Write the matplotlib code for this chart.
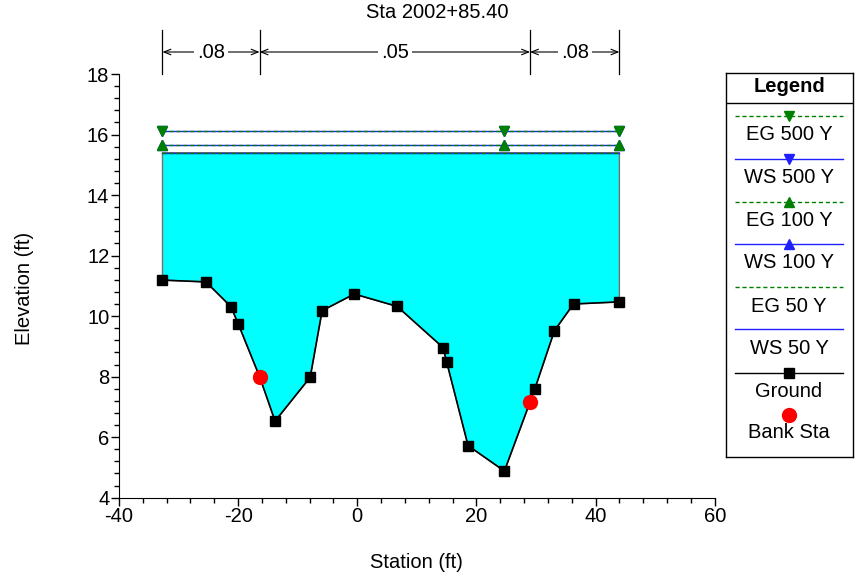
import matplotlib
matplotlib.use("Agg")
import matplotlib.pyplot as plt
from matplotlib.ticker import MultipleLocator

plt.rcParams['font.family'] = ['Liberation Sans', 'DejaVu Sans']
plt.rcParams['axes.unicode_minus'] = False

# ground survey points (station, elevation)
station = [-32.7, -25.4, -21.2, -20.0, -16.4, -13.8, -7.9, -5.9, -0.5, 6.7,
           14.4, 15.0, 18.6, 24.7, 29.0, 29.8, 33.1, 36.3, 44.0]
elevation = [11.19, 11.13, 10.31, 9.75, 8.00, 6.53, 7.98, 10.18, 10.73, 10.32,
             8.96, 8.49, 5.72, 4.88, 7.16, 7.59, 9.52, 10.40, 10.47]
bank_sta = [-16.4, 29.0]
bank_elev = [8.00, 7.16]

# water surface / energy grade elevations per profile
profiles = ['500 Y', '100 Y', '50 Y']
ws_elev = [16.13, 15.66, 15.40]
eg_elev = [16.13, 15.66, 15.40]
profile_markers = ['v', '^', None]
marker_sta = [-32.7, 24.7, 44.0]

# Manning's n between breaks
n_breaks = [-32.7, -16.4, 29.0, 44.0]
n_values = ['.08', '.05', '.08']

FS = 14.5
W, H = 855, 578
fig = plt.figure(figsize=(W / 100, H / 100), dpi=100)
ax = fig.add_axes([119 / W, 1 - 497.7 / H, (714.7 - 119) / W, (497.7 - 74) / H])

x0, x1 = station[0], station[-1]
ws_fill = ws_elev[-1]

# flow area
poly_x = [x0] + station + [x1]
poly_y = [ws_fill] + elevation + [ws_fill]
ax.fill(poly_x, poly_y, facecolor='#00ffff', edgecolor='#707070', lw=1, zorder=1)

# water surfaces and energy grades
for name, ws, eg, mk in zip(profiles, ws_elev, eg_elev, profile_markers):
    ax.plot([x0, x1], [ws, ws], color='#1f1fff', lw=1, zorder=2)
    if mk:
        ax.plot(marker_sta, [ws] * len(marker_sta), ls='none', marker=mk,
                color='#1f1fff', ms=7, zorder=3)
    ax.plot([x0, x1], [eg, eg], color='#008000', lw=1, ls=(0, (3, 2)), zorder=3)
    if mk:
        ax.plot(marker_sta, [eg] * len(marker_sta), ls='none', marker=mk,
                color='#008000', ms=7, zorder=4)

ax.plot(station, elevation, color='black', lw=1.2, marker='s', ms=6.5, zorder=5)
ax.plot(bank_sta, bank_elev, ls='none', marker='o', color='red', ms=10, zorder=6)

ax.set_xlim(-40, 60)
ax.set_ylim(4, 18)
ax.xaxis.set_major_locator(MultipleLocator(20))
ax.xaxis.set_minor_locator(MultipleLocator(4))
ax.yaxis.set_major_locator(MultipleLocator(2))
ax.yaxis.set_minor_locator(MultipleLocator(0.4))
ax.spines['top'].set_visible(False)
ax.spines['right'].set_visible(False)
ax.tick_params(which='major', direction='out', length=6, width=1, labelsize=FS, pad=1)
ax.tick_params(which='minor', direction='out', length=3.5, width=1)

fig.text(416 / W, 1 - 562 / H, 'Station (ft)', ha='center', va='center', fontsize=FS)
fig.text(25 / W, 1 - 288 / H, 'Elevation (ft)', ha='center', va='center',
         rotation=90, fontsize=FS)
fig.text(437 / W, 1 - 13 / H, 'Sta 2002+85.40', ha='center', va='center', fontsize=FS)

# Manning's n annotation above the plot
tr = ax.get_xaxis_transform()
y_top = (497.7 - 30) / (497.7 - 74)
y_arr = (497.7 - 52) / (497.7 - 74)
for xb in n_breaks:
    ax.plot([xb, xb], [1.0, y_top], transform=tr, color='black', lw=0.9, clip_on=False)
for a, b, lab in zip(n_breaks[:-1], n_breaks[1:], n_values):
    ax.annotate('', xy=(b, y_arr), xytext=(a, y_arr), xycoords=tr, textcoords=tr,
                arrowprops=dict(arrowstyle='<->,head_length=0.5,head_width=0.2',
                                color='black', lw=0.8, shrinkA=0, shrinkB=0))
    ax.text((a + b) / 2, y_arr, lab, transform=tr, ha='center', va='center',
            fontsize=FS, bbox=dict(facecolor='white', edgecolor='none', pad=2))

# legend box
lx0, lx1, ly0, ly1 = 725.7, 852.7, 73.3, 456.7
lax = fig.add_axes([lx0 / W, 1 - ly1 / H, (lx1 - lx0) / W, (ly1 - ly0) / H])
lax.set_xlim(lx0, lx1)
lax.set_ylim(ly1, ly0)
lax.set_xticks([])
lax.set_yticks([])
for s in lax.spines.values():
    s.set_linewidth(1)
lax.axhline(102.7, color='black', lw=1)
lax.text((lx0 + lx1) / 2, 87, 'Legend', ha='center', va='center',
         fontsize=FS, fontweight='bold')

entries = [
    ('EG 500 Y', '#008000', (0, (3, 2)), 'v'),
    ('WS 500 Y', '#1f1fff', '-', 'v'),
    ('EG 100 Y', '#008000', (0, (3, 2)), '^'),
    ('WS 100 Y', '#1f1fff', '-', '^'),
    ('EG 50 Y', '#008000', (0, (3, 2)), None),
    ('WS 50 Y', '#1f1fff', '-', None),
    ('Ground', 'black', '-', 's'),
]
line_y = [116, 158.7, 202, 243.7, 287, 329.3, 372.7]
for (lab, col, ls, mk), yy in zip(entries, line_y):
    lax.plot([735, 843.3], [yy, yy], color=col, ls=ls, lw=1)
    if mk:
        lax.plot([789], [yy], marker=mk, color=col, ms=7 if mk != 's' else 6.5)
    lax.text(789, yy + 19, lab, ha='center', va='center', fontsize=FS)
lax.plot([789], [415], marker='o', color='red', ms=10, ls='none')
lax.text(789, 432.5, 'Bank Sta', ha='center', va='center', fontsize=FS)

fig.savefig('out.png', dpi=100)
